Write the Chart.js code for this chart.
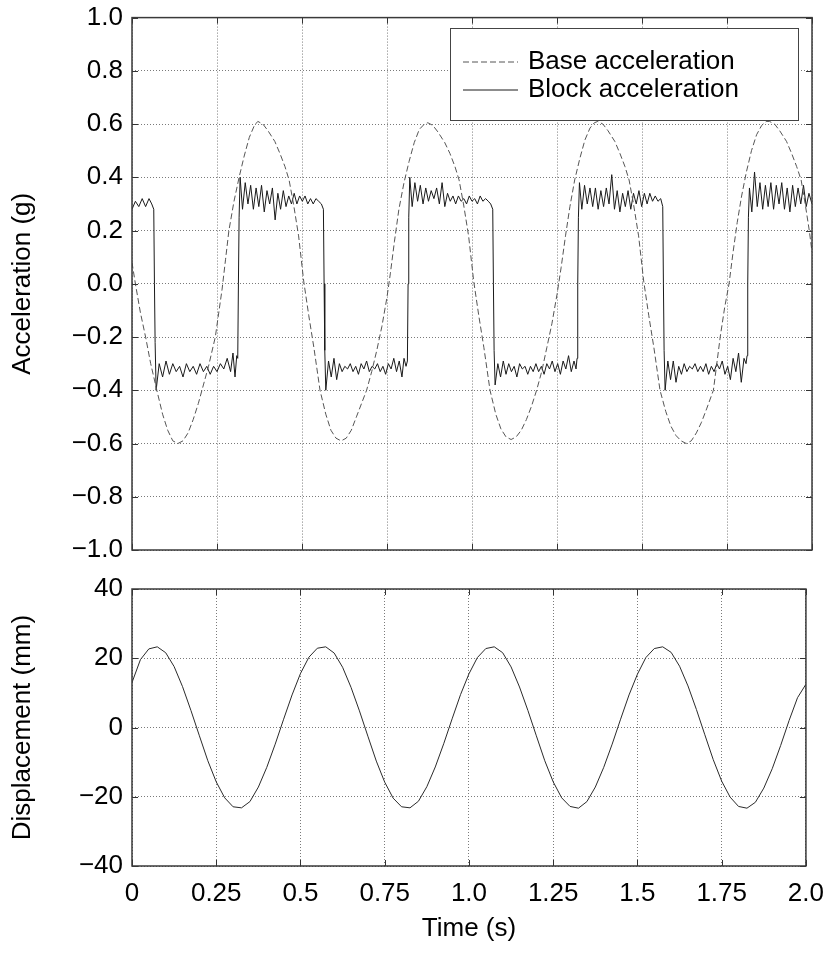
<!DOCTYPE html>
<html>
<head>
<meta charset="utf-8">
<script src="https://cdn.jsdelivr.net/npm/chart.js@4.4.1/dist/chart.umd.min.js"></script>
<style>
  body { margin: 0; background: #fff; }
  #wrap { position: relative; width: 836px; height: 957px; overflow: hidden; }
  canvas { position: absolute; left: 0; }
  #accChart { top: -7px; }
  #dispChart { top: 560px; }
</style>
</head>
<body>
<div id="wrap">
  <canvas id="accChart" width="836" height="587"></canvas>
  <canvas id="dispChart" width="836" height="397"></canvas>
</div>
<script>
// tick values and labels
const timeTicks = [0, 0.25, 0.5, 0.75, 1.0, 1.25, 1.5, 1.75, 2.0];
const timeTickLabels = ['0', '0.25', '0.5', '0.75', '1.0', '1.25', '1.5', '1.75', '2.0'];
const accTicks = [-1.0, -0.8, -0.6, -0.4, -0.2, 0.0, 0.2, 0.4, 0.6, 0.8, 1.0];
const accTickLabels = ['\u22121.0', '\u22120.8', '\u22120.6', '\u22120.4', '\u22120.2', '0.0', '0.2', '0.4', '0.6', '0.8', '1.0'];
const dispTicks = [-40, -20, 0, 20, 40];
const dispTickLabels = ['\u221240', '\u221220', '0', '20', '40'];

// base acceleration (g)
const baseTime = [
  0.000, 0.010, 0.025, 0.040, 0.055, 0.073, 0.090, 0.105,
  0.120, 0.135, 0.150, 0.165, 0.180, 0.195, 0.210, 0.225,
  0.245, 0.255, 0.265, 0.275, 0.285, 0.300, 0.315, 0.330,
  0.345, 0.360, 0.370, 0.385, 0.400, 0.420, 0.435, 0.450,
  0.462, 0.475, 0.490, 0.505, 0.520, 0.535, 0.553, 0.570,
  0.585, 0.600, 0.615, 0.630, 0.645, 0.660, 0.675, 0.690,
  0.705, 0.720, 0.735, 0.750, 0.760, 0.772, 0.785, 0.800,
  0.815, 0.830, 0.845, 0.860, 0.870, 0.885, 0.900, 0.920,
  0.935, 0.950, 0.962, 0.975, 0.990, 1.005, 1.020, 1.035,
  1.053, 1.070, 1.085, 1.100, 1.115, 1.130, 1.145, 1.160,
  1.175, 1.190, 1.205, 1.220, 1.235, 1.250, 1.262, 1.275,
  1.288, 1.302, 1.317, 1.332, 1.347, 1.360, 1.370, 1.385,
  1.400, 1.420, 1.435, 1.450, 1.462, 1.475, 1.490, 1.505,
  1.520, 1.535, 1.553, 1.570, 1.585, 1.600, 1.615, 1.630,
  1.645, 1.660, 1.675, 1.690, 1.710, 1.730, 1.743, 1.756,
  1.768, 1.780, 1.793, 1.807, 1.822, 1.837, 1.852, 1.865,
  1.875, 1.890, 1.905, 1.925, 1.940, 1.955, 1.968, 1.980, 1.992, 2.000
];
const baseAcc = [
  0.08, 0.00, -0.11, -0.20, -0.30, -0.40, -0.49, -0.55,
  -0.59, -0.60, -0.59, -0.56, -0.51, -0.45, -0.38, -0.31,
  -0.20, -0.11, -0.02, 0.09, 0.20, 0.31, 0.40, 0.48,
  0.55, 0.595, 0.61, 0.60, 0.575, 0.535, 0.49, 0.44,
  0.39, 0.30, 0.18, 0.01, -0.12, -0.24, -0.40, -0.49,
  -0.55, -0.58, -0.59, -0.58, -0.55, -0.50, -0.45, -0.40,
  -0.33, -0.25, -0.16, -0.05, 0.04, 0.16, 0.28, 0.38,
  0.46, 0.53, 0.58, 0.60, 0.605, 0.595, 0.57, 0.53,
  0.49, 0.44, 0.39, 0.30, 0.18, 0.01, -0.12, -0.24,
  -0.40, -0.49, -0.545, -0.575, -0.585, -0.575, -0.55, -0.51,
  -0.46, -0.40, -0.33, -0.24, -0.15, -0.04, 0.06, 0.18,
  0.29, 0.39, 0.47, 0.54, 0.585, 0.605, 0.61, 0.60,
  0.575, 0.535, 0.49, 0.44, 0.39, 0.30, 0.18, 0.01,
  -0.12, -0.24, -0.40, -0.48, -0.535, -0.57, -0.59, -0.60,
  -0.59, -0.56, -0.52, -0.47, -0.40, -0.20, -0.09, 0.00,
  0.12, 0.23, 0.33, 0.42, 0.50, 0.56, 0.595, 0.61,
  0.61, 0.60, 0.575, 0.535, 0.49, 0.44, 0.39, 0.30, 0.20, 0.12
];

// block acceleration (g), stick-slip square wave with chatter
const blockTime = [
  0.000, 0.010, 0.020, 0.030, 0.040, 0.050, 0.058, 0.064,
  0.066, 0.068, 0.071, 0.080, 0.090, 0.100, 0.110, 0.120,
  0.130, 0.140, 0.150, 0.160, 0.170, 0.180, 0.190, 0.200,
  0.210, 0.220, 0.230, 0.240, 0.250, 0.260, 0.270, 0.280,
  0.290, 0.297, 0.303, 0.308, 0.311,
  0.313, 0.315, 0.318, 0.325, 0.333, 0.341, 0.349, 0.357,
  0.365, 0.373, 0.381, 0.389, 0.397, 0.405, 0.413, 0.421,
  0.429, 0.437, 0.445, 0.453, 0.461, 0.469, 0.477, 0.485,
  0.493, 0.501, 0.509, 0.517, 0.525, 0.533, 0.541, 0.549,
  0.557, 0.563,
  0.565, 0.567, 0.570, 0.578, 0.586, 0.594, 0.602, 0.610,
  0.618, 0.626, 0.634, 0.642, 0.650, 0.658, 0.666, 0.674,
  0.682, 0.690, 0.698, 0.706, 0.714, 0.722, 0.730, 0.738,
  0.746, 0.754, 0.762, 0.770, 0.778, 0.786, 0.794, 0.800,
  0.806, 0.810,
  0.812, 0.814, 0.817, 0.824, 0.832, 0.840, 0.848, 0.856,
  0.864, 0.872, 0.880, 0.888, 0.896, 0.904, 0.912, 0.920,
  0.928, 0.936, 0.944, 0.952, 0.960, 0.968, 0.976, 0.984,
  0.992, 1.000, 1.008, 1.016, 1.024, 1.032, 1.040, 1.048,
  1.055, 1.061,
  1.063, 1.065, 1.068, 1.076, 1.084, 1.092, 1.100, 1.108,
  1.116, 1.124, 1.132, 1.140, 1.148, 1.156, 1.164, 1.172,
  1.180, 1.188, 1.196, 1.204, 1.212, 1.220, 1.228, 1.236,
  1.244, 1.252, 1.260, 1.268, 1.276, 1.284, 1.292, 1.300,
  1.306, 1.309,
  1.311, 1.313, 1.316, 1.323, 1.331, 1.339, 1.347, 1.355,
  1.363, 1.371, 1.379, 1.387, 1.395, 1.403, 1.411, 1.419,
  1.427, 1.435, 1.443, 1.451, 1.459, 1.467, 1.475, 1.483,
  1.491, 1.499, 1.507, 1.515, 1.523, 1.531, 1.539, 1.547,
  1.555, 1.561,
  1.563, 1.565, 1.568, 1.576, 1.584, 1.592, 1.600, 1.608,
  1.616, 1.624, 1.632, 1.640, 1.648, 1.656, 1.664, 1.672,
  1.680, 1.688, 1.696, 1.704, 1.712, 1.720, 1.728, 1.736,
  1.744, 1.752, 1.760, 1.768, 1.776, 1.784, 1.792, 1.800,
  1.806, 1.809,
  1.811, 1.813, 1.816, 1.823, 1.831, 1.839, 1.847, 1.855,
  1.863, 1.871, 1.879, 1.887, 1.895, 1.903, 1.911, 1.919,
  1.927, 1.935, 1.943, 1.951, 1.959, 1.967, 1.975, 1.983,
  1.991, 2.000
];
const blockAcc = [
  0.28, 0.31, 0.29, 0.32, 0.29, 0.32, 0.30, 0.28,
  0.00, -0.22, -0.40, -0.30, -0.35, -0.29, -0.34, -0.30,
  -0.33, -0.31, -0.35, -0.30, -0.33, -0.31, -0.34, -0.30,
  -0.33, -0.31, -0.34, -0.31, -0.33, -0.30, -0.32, -0.28,
  -0.33, -0.26, -0.35, -0.27, -0.28,
  0.00, 0.25, 0.40, 0.28, 0.38, 0.30, 0.37, 0.28,
  0.36, 0.29, 0.37, 0.27, 0.35, 0.30, 0.36, 0.24,
  0.34, 0.28, 0.35, 0.29, 0.33, 0.30, 0.34, 0.30,
  0.33, 0.31, 0.33, 0.30, 0.32, 0.30, 0.32, 0.31,
  0.30, 0.28,
  0.00, -0.25, -0.40, -0.29, -0.35, -0.28, -0.36, -0.30,
  -0.33, -0.31, -0.32, -0.30, -0.33, -0.31, -0.34, -0.30,
  -0.32, -0.29, -0.33, -0.31, -0.32, -0.30, -0.33, -0.31,
  -0.34, -0.30, -0.32, -0.28, -0.33, -0.29, -0.35, -0.28,
  -0.31, -0.29,
  0.00, 0.25, 0.40, 0.29, 0.38, 0.31, 0.37, 0.30,
  0.36, 0.31, 0.35, 0.32, 0.36, 0.30, 0.38, 0.29,
  0.34, 0.31, 0.33, 0.30, 0.33, 0.31, 0.32, 0.30,
  0.33, 0.31, 0.32, 0.30, 0.33, 0.31, 0.32, 0.31,
  0.30, 0.28,
  0.00, -0.25, -0.38, -0.30, -0.35, -0.29, -0.34, -0.30,
  -0.33, -0.31, -0.35, -0.30, -0.32, -0.31, -0.34, -0.31,
  -0.33, -0.30, -0.33, -0.31, -0.34, -0.30, -0.32, -0.29,
  -0.33, -0.30, -0.34, -0.29, -0.32, -0.27, -0.33, -0.29,
  -0.32, -0.28,
  0.00, 0.25, 0.38, 0.28, 0.37, 0.30, 0.36, 0.29,
  0.36, 0.28, 0.35, 0.29, 0.36, 0.30, 0.41, 0.28,
  0.35, 0.27, 0.34, 0.29, 0.35, 0.28, 0.34, 0.30,
  0.35, 0.29, 0.34, 0.30, 0.34, 0.31, 0.33, 0.31,
  0.32, 0.29,
  0.00, -0.25, -0.40, -0.29, -0.36, -0.29, -0.37, -0.31,
  -0.34, -0.30, -0.33, -0.31, -0.32, -0.30, -0.33, -0.31,
  -0.33, -0.30, -0.34, -0.31, -0.33, -0.30, -0.32, -0.29,
  -0.34, -0.31, -0.36, -0.28, -0.33, -0.26, -0.37, -0.28,
  -0.30, -0.27,
  0.00, 0.25, 0.36, 0.27, 0.42, 0.29, 0.38, 0.28,
  0.37, 0.29, 0.38, 0.28, 0.37, 0.30, 0.38, 0.28,
  0.36, 0.27, 0.37, 0.29, 0.36, 0.30, 0.37, 0.29,
  0.34, 0.30
];

// base displacement (mm)
const dispTime = [
  0.000, 0.025, 0.050, 0.075, 0.100, 0.125, 0.150, 0.175, 0.200, 0.225,
  0.250, 0.275, 0.300, 0.325, 0.350, 0.375, 0.400, 0.425, 0.450, 0.475,
  0.500, 0.525, 0.550, 0.575, 0.600, 0.625, 0.650, 0.675, 0.700, 0.725,
  0.750, 0.775, 0.800, 0.825, 0.850, 0.875, 0.900, 0.925, 0.950, 0.975,
  1.000, 1.025, 1.050, 1.075, 1.100, 1.125, 1.150, 1.175, 1.200, 1.225,
  1.250, 1.275, 1.300, 1.325, 1.350, 1.375, 1.400, 1.425, 1.450, 1.475,
  1.500, 1.525, 1.550, 1.575, 1.600, 1.625, 1.650, 1.675, 1.700, 1.725,
  1.750, 1.775, 1.800, 1.825, 1.850, 1.875, 1.900, 1.925, 1.950, 1.975,
  2.000
];
const dispMm = [
  13.0, 19.6, 22.7, 23.3, 21.6, 17.6, 11.8, 4.9, -2.4, -9.6,
  -15.7, -20.3, -22.9, -23.2, -21.4, -17.2, -11.5, -4.8, 2.4, 9.4,
  15.6, 20.3, 22.9, 23.3, 21.5, 17.4, 11.6, 4.8, -2.5, -9.7,
  -15.8, -20.4, -22.9, -23.2, -21.3, -17.1, -11.4, -4.7, 2.5, 9.5,
  15.5, 20.2, 22.8, 23.3, 21.6, 17.5, 11.7, 4.9, -2.4, -9.6,
  -15.7, -20.3, -22.8, -23.3, -21.4, -17.2, -11.5, -4.8, 2.4, 9.4,
  15.4, 20.2, 22.8, 23.3, 21.7, 17.7, 12.0, 5.2, -2.1, -9.3,
  -15.5, -20.1, -22.8, -23.3, -21.6, -17.5, -11.9, -5.2, 2.0, 8.6,
  12.5
];

const pts = (xs, ys) => xs.map((x, i) => ({ x: x, y: ys[i] }));

Chart.defaults.font.family = "'Liberation Sans', Arial, Helvetica, sans-serif";
Chart.defaults.font.size = 26;
Chart.defaults.color = '#000';

const gridColor = '#7a7a7a';
const gridDash = [1, 2];

// box round the plot plus inward tick marks, matlab style
const framePlugin = {
  id: 'frame',
  afterDraw(chart) {
    const { ctx, chartArea: a, scales } = chart;
    const len = 6;
    ctx.save();
    ctx.strokeStyle = '#333';
    ctx.lineWidth = 1;
    ctx.beginPath();
    scales.x.ticks.forEach(t => {
      const px = Math.round(scales.x.getPixelForValue(t.value)) + 0.5;
      ctx.moveTo(px, a.top); ctx.lineTo(px, a.top + len);
      ctx.moveTo(px, a.bottom); ctx.lineTo(px, a.bottom - len);
    });
    scales.y.ticks.forEach(t => {
      const py = Math.round(scales.y.getPixelForValue(t.value)) + 0.5;
      ctx.moveTo(a.left, py); ctx.lineTo(a.left + len, py);
      ctx.moveTo(a.right, py); ctx.lineTo(a.right - len, py);
    });
    ctx.stroke();
    ctx.lineWidth = 1.5;
    ctx.strokeStyle = '#3a3a3a';
    ctx.strokeRect(a.left, a.top, a.right - a.left, a.bottom - a.top);
    ctx.restore();
  }
};

// boxed legend inside the plot, built from the datasets
const legendBoxPlugin = {
  id: 'legendBox',
  afterDraw(chart, args, opts) {
    const { ctx } = chart;
    ctx.save();
    ctx.fillStyle = '#fff';
    ctx.fillRect(opts.x, opts.y, opts.w, opts.h);
    ctx.strokeStyle = '#444';
    ctx.lineWidth = 1;
    ctx.strokeRect(opts.x + 0.5, opts.y + 0.5, opts.w, opts.h);
    ctx.font = "26px 'Liberation Sans', Arial, sans-serif";
    ctx.textBaseline = 'middle';
    chart.data.datasets.forEach((ds, i) => {
      const cy = opts.y + opts.firstRow + i * opts.rowH;
      ctx.beginPath();
      ctx.setLineDash(ds.borderDash || []);
      ctx.strokeStyle = ds.borderColor;
      ctx.lineWidth = ds.borderWidth;
      ctx.moveTo(opts.x + 13, cy);
      ctx.lineTo(opts.x + 13 + opts.lineLen, cy);
      ctx.stroke();
      ctx.setLineDash([]);
      ctx.fillStyle = '#000';
      ctx.fillText(ds.label, opts.x + 78, cy);
    });
    ctx.restore();
  }
};

function xAxis(showLabels, height) {
  return {
    type: 'linear',
    min: 0,
    max: 2,
    afterBuildTicks: s => { s.ticks = timeTicks.map(v => ({ value: v })); },
    afterFit: s => { s.height = height; },
    ticks: {
      display: showLabels,
      padding: 12,
      maxRotation: 0,
      autoSkip: false,
      callback: (v, i) => timeTickLabels[i]
    },
    grid: { color: gridColor, lineWidth: 1, drawTicks: false },
    border: { display: false, dash: gridDash },
    title: {
      display: showLabels,
      text: 'Time (s)',
      padding: { top: 0, bottom: 13 }
    }
  };
}

function yAxis(min, max, tickVals, tickLabels, titleText) {
  return {
    min: min,
    max: max,
    afterBuildTicks: s => { s.ticks = tickVals.map(v => ({ value: v })); },
    afterFit: s => { s.width = 132; },
    ticks: {
      padding: 9,
      autoSkip: false,
      callback: (v, i) => tickLabels[i]
    },
    grid: { color: gridColor, lineWidth: 1, drawTicks: false },
    border: { display: false, dash: gridDash },
    title: {
      display: true,
      text: titleText,
      padding: { top: 7, bottom: 0 }
    }
  };
}

// legend box sits at page y 28; the top canvas is shifted up by 7px
new Chart(document.getElementById('accChart'), {
  type: 'line',
  data: {
    datasets: [
      {
        label: 'Base acceleration',
        data: pts(baseTime, baseAcc),
        borderColor: '#555',
        borderWidth: 1,
        borderDash: [6, 3],
        pointRadius: 0,
        tension: 0
      },
      {
        label: 'Block acceleration',
        data: pts(blockTime, blockAcc),
        borderColor: '#1a1a1a',
        borderWidth: 1,
        pointRadius: 0,
        tension: 0
      }
    ]
  },
  options: {
    responsive: false,
    animation: false,
    layout: { padding: { left: 0, right: 24, top: 17, bottom: 0 } },
    plugins: {
      legend: { display: false },
      tooltip: { enabled: false },
      legendBox: { x: 450, y: 35, w: 348, h: 92, firstRow: 34, rowH: 28, lineLen: 55 }
    },
    scales: {
      x: xAxis(false, 30),
      y: yAxis(-1, 1, accTicks, accTickLabels, 'Acceleration (g)')
    }
  },
  plugins: [framePlugin, legendBoxPlugin]
});

new Chart(document.getElementById('dispChart'), {
  type: 'line',
  data: {
    datasets: [
      {
        label: 'Displacement',
        data: pts(dispTime, dispMm),
        borderColor: '#2a2a2a',
        borderWidth: 1,
        pointRadius: 0,
        tension: 0
      }
    ]
  },
  options: {
    responsive: false,
    animation: false,
    layout: { padding: { left: 0, right: 24, top: 29, bottom: 0 } },
    plugins: {
      legend: { display: false },
      tooltip: { enabled: false }
    },
    scales: {
      x: xAxis(true, 91),
      y: yAxis(-40, 40, dispTicks, dispTickLabels, 'Displacement (mm)')
    }
  },
  plugins: [framePlugin]
});
</script>
</body>
</html>
